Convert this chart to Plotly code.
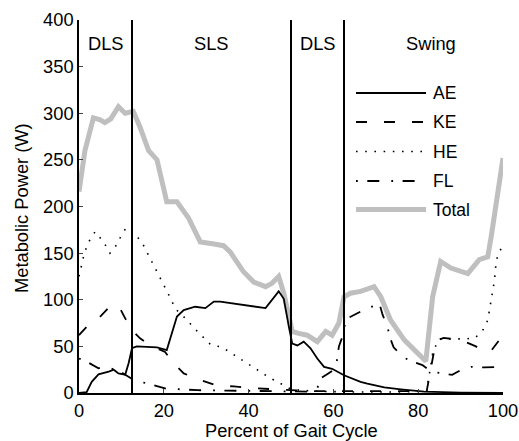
import plotly.graph_objects as go

# ---------------- data ----------------
total_x = [0, 1.4, 3.4, 5, 6.1, 7.5, 9.3, 10.9, 12.8, 14.4, 16.4, 18.4, 20.7, 23.1, 25.8, 27.2,
           28.6, 31.5, 34.1, 35.7, 38.8, 41.2, 44, 45.5, 47.1, 48.3, 50.3, 51.8, 53.8, 56.2,
           58.2, 59.7, 61.3, 62.5, 64, 66.4, 69.6, 71.2, 73.5, 76.7, 79.8, 81.8, 83.4, 85.3,
           87.7, 91.7, 94.4, 96.4, 97.3, 98.3, 99.2, 100]
total_y = [216, 260, 295, 293, 290, 294, 307, 300, 302, 285, 260, 250, 205, 205, 188, 175,
           162, 160, 158, 151, 130, 119, 114, 117.6, 125, 107, 66, 64, 62, 55,
           66, 62, 75, 103, 107, 109, 114, 103, 78, 57, 44, 34, 103, 141,
           134, 128, 143, 146, 170, 200, 235, 252]

ae_x = [0, 1.8, 3, 4.6, 7, 8.2, 9.3, 10.9, 11.7, 12.5, 13.6, 18.4, 20.7, 23.1, 24.7, 27.4,
        29.8, 31.8, 33.3, 38.8, 44, 47.1, 48.3, 49.5, 50.3, 51.5, 53, 54.6, 56.2, 57.8,
        59.7, 62.5, 66.4, 68, 72, 75.9, 81.4, 90, 100]
ae_y = [0, 1, 12, 20, 23, 25, 21, 19.7, 32, 48, 50, 49, 46, 82, 89, 92.5,
        91, 98, 98, 94, 91, 109, 101, 71, 53, 51, 55, 48, 37, 28,
        26, 19, 12, 10, 6, 4, 1.5, 0.5, 0]

ke_x = [0, 1.8, 4.6, 6.9, 9.3, 10.9, 12.8, 14.4, 16.5, 18.4, 20.3, 22.3, 24.7, 28.6, 32.5,
        36.5, 42, 50, 56, 82, 83.2, 84.2, 86, 88, 91, 93.6, 95.5, 97, 99, 100]
ke_y = [62, 71, 80, 91, 94, 80, 66, 58.6, 52, 48, 44, 32, 21, 14, 8,
        7, 5, 3, 2, 2, 30, 56, 59, 58, 55, 50, 45, 44, 56, 60]

he_x = [0, 1, 2, 3.8, 5.8, 7.3, 8.9, 10.1, 11.1, 12.8, 14.8, 16.4, 18, 19.6, 21.2, 22.8,
        25.1, 27.5, 31, 33.8, 36.9, 39.3, 41.6, 44.9, 47.2, 48.4, 50, 55, 65, 75, 82,
        83.5, 85, 88, 91, 93.4, 95.2, 96.4, 97.2, 97.6, 98, 98.4, 99.2, 100]
he_y = [125, 145, 160, 173, 162, 150, 159, 170, 177, 172, 162, 148, 133, 119, 105, 90,
        80, 68, 52, 49, 40, 33, 26, 16.5, 11, 8, 4, 2, 1, 1, 2,
        45, 58, 58, 58, 59, 67, 78, 98, 109, 121, 142, 152, 158]

fl_x = [0, 1.8, 4.6, 6.1, 9.3, 11.7, 13.6, 15.8, 19, 20.5, 24, 28, 35, 45, 50, 55, 56.2,
        57, 58.8, 60.5, 60.9, 61.3, 62.1, 62.5, 63.3, 65.6, 68, 70.9, 71.6, 72.8, 73.4,
        74.2, 76.6, 78.6, 81, 83, 85.7, 88, 90.6, 92.5, 95.6, 98, 100]
fl_y = [37, 33.6, 26.5, 28, 24, 17, 12, 10.7, 7, 4.6, 4, 3, 2.5, 2, 1.5, 1.5, 5,
        15.7, 21, 26, 37, 50, 60, 70, 80, 85.4, 91, 95, 84, 70, 58.6,
        49, 38, 33.6, 30, 23, 21, 19.5, 26, 28, 27.5, 28, 28]

series_names = ["AE", "KE", "HE", "FL", "Total"]
phase_bounds = [12.5, 50, 62.5]
phase_labels = ["DLS", "SLS", "DLS", "Swing"]
phase_label_x = [6.4, 31.2, 56.4, 83]
phase_label_y = 375
x_ticks = [0, 20, 40, 60, 80, 100]
y_ticks = [0, 50, 100, 150, 200, 250, 300, 350, 400]
x_title = "Percent of Gait Cycle"
y_title = "Metabolic Power (W)"

# ---------------- styling ----------------
FONT = "Liberation Sans, Arial, Helvetica, sans-serif"
FS = 18.3
FS_LEG = 17.5
GRAY = "#bfbfbf"
styles = {
    "AE": dict(color="black", width=1.8, dash="solid"),
    "KE": dict(color="black", width=1.8, dash="11px,17px"),
    "HE": dict(color="black", width=1.6, dash="1.6px,7.6px"),
    "FL": dict(color="black", width=1.8, dash="1.8px,9.5px,12px,12px"),
    "Total": dict(color=GRAY, width=5, dash="solid"),
}
data_map = {
    "AE": (ae_x, ae_y), "KE": (ke_x, ke_y), "HE": (he_x, he_y),
    "FL": (fl_x, fl_y), "Total": (total_x, total_y),
}

fig = go.Figure()
for name in ["Total", "HE", "FL", "KE", "AE"]:
    xs, ys = data_map[name]
    fig.add_trace(go.Scatter(x=xs, y=ys, mode="lines", name=name,
                             line=styles[name], showlegend=False))

shapes = []
for b in phase_bounds:
    shapes.append(dict(type="line", xref="x", yref="y", x0=b, x1=b, y0=0, y1=400,
                       line=dict(color="black", width=2)))

annotations = []
for lab, lx in zip(phase_labels, phase_label_x):
    annotations.append(dict(x=lx, y=phase_label_y, xref="x", yref="y", text=lab,
                            showarrow=False, font=dict(family=FONT, size=FS, color="black")))

W, H = 519, 441
ML, MR, MT, MB = 79, 16, 20, 48
pw, ph = W - ML - MR, H - MT - MB
def px2paper_x(px):
    return (px - ML) / pw
def px2paper_y(py):
    return (H - MB - py) / ph

# axis titles as annotations for exact placement
annotations.append(dict(x=px2paper_x(291), y=px2paper_y(430), xref="paper", yref="paper",
                        text=x_title, showarrow=False, xanchor="center", yanchor="middle",
                        font=dict(family=FONT, size=FS, color="black")))
annotations.append(dict(x=px2paper_x(21), y=px2paper_y(208), xref="paper", yref="paper",
                        text=y_title, showarrow=False, textangle=-90,
                        xanchor="center", yanchor="middle",
                        font=dict(family=FONT, size=FS, color="black")))

# manual legend (MATLAB style, long samples)
leg_y = [93, 122, 151.5, 181, 209.5]
for name, py in zip(series_names, leg_y):
    st = styles[name]
    shapes.append(dict(type="line", xref="paper", yref="paper",
                       x0=px2paper_x(356), x1=px2paper_x(426),
                       y0=px2paper_y(py), y1=px2paper_y(py),
                       line=dict(color=st["color"], width=st["width"], dash=st["dash"])))
    annotations.append(dict(x=px2paper_x(431), y=px2paper_y(py), xref="paper", yref="paper",
                            text=name, showarrow=False, xanchor="left", yanchor="middle",
                            font=dict(family=FONT, size=FS_LEG, color="black")))

fig.update_layout(
    width=W, height=H,
    margin=dict(l=ML, r=MR, t=MT, b=MB, autoexpand=False),
    plot_bgcolor="white", paper_bgcolor="white",
    font=dict(family=FONT, size=FS, color="black"),
    shapes=shapes, annotations=annotations,
    showlegend=False,
)
fig.update_xaxes(range=[0, 100], tickvals=x_ticks, ticks="inside", ticklen=4,
                 showline=True, linecolor="black", linewidth=1.5, showgrid=False,
                 zeroline=False, automargin=False, tickfont=dict(size=FS))
fig.update_yaxes(range=[0, 400], tickvals=y_ticks, ticks="inside", ticklen=4,
                 showline=True, linecolor="black", linewidth=1.5, showgrid=False,
                 zeroline=False, automargin=False, tickfont=dict(size=FS))

fig.write_html("out.html")
